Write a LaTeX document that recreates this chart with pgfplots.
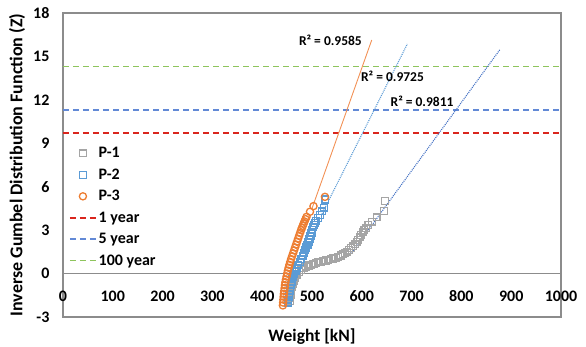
\documentclass[border=0pt]{standalone}
\usepackage{pgfplots}
\pgfplotsset{compat=1.18}
\usepackage{fontspec}
\setmainfont{Carlito}

\definecolor{pone}{RGB}{165,165,165}
\definecolor{ptwo}{RGB}{91,155,213}
\definecolor{pthree}{RGB}{237,125,49}
\definecolor{yrone}{RGB}{218,37,29}
\definecolor{yrfive}{RGB}{98,137,214}
\definecolor{yrhund}{RGB}{142,196,92}
\definecolor{trendone}{RGB}{68,114,196}
\definecolor{trendtwo}{RGB}{91,155,213}
\definecolor{trendthree}{RGB}{242,145,85}
\definecolor{frame}{RGB}{140,140,140}

\begin{document}
\begin{tikzpicture}
\begin{axis}[
  scale only axis,
  width=498pt, height=304pt,
  xmin=0, xmax=1000, ymin=-3, ymax=18,
  xtick={0,100,...,1000}, ytick={-3,0,...,18},
  major tick length=0pt,
  axis line style={frame, line width=1.2pt},
  /pgf/number format/assume math mode=true,
  /pgf/number format/1000 sep={},
  xticklabel={\pgfmathprintnumber{\tick}},
  yticklabel={\pgfmathprintnumber{\tick}},
  tick label style={font=\fontsize{16}{16}\selectfont\bfseries},
  xticklabel style={anchor=center, yshift=21pt},
  yticklabel style={xshift=-10pt},
  xlabel={Weight [kN]},
  ylabel={Inverse Gumbel Distribution Function (Z)},
  every axis x label/.style={at={(rel axis cs:0.5,0)}, anchor=center, yshift=-20pt,
    font=\fontsize{17.5}{17.5}\selectfont\bfseries},
  every axis y label/.style={at={(rel axis cs:0,0.5)}, rotate=90, anchor=center, yshift=46pt,
    font=\fontsize{18}{18}\selectfont\bfseries},
  legend style={draw=none, fill=none, at={(rel axis cs:0.012,0.565)}, anchor=north west,
    font=\fontsize{16}{16}\selectfont\bfseries, row sep=5.5pt, inner sep=0pt,
    cells={anchor=west}},
  legend image code/.code={\draw[mark repeat=2, mark phase=2, #1]
    plot coordinates {(0pt,0pt) (13pt,0pt) (26pt,0pt)};},
]
\coordinate (sw) at (rel axis cs:0,0);
\coordinate (ne) at (rel axis cs:1,1);

% axis line at Z = 0
\draw[frame, line width=1.2pt] (axis cs:0,0) -- (axis cs:1000,0);

% P-1
\addplot[only marks, mark=square, mark size=3.4pt, color=pone, line width=1.3pt] coordinates {
(455.5,-1.9) (456.2,-1.7) (457,-1.5) (457.8,-1.3) (458.6,-1.1) (459.6,-0.9)
(461,-0.7) (462.8,-0.5) (465.5,-0.3) (469,-0.1) (473.5,0.1) (478,0.25)
(483,0.38) (488,0.48) (493,0.56) (498,0.62) (503,0.68) (508,0.73)
(513,0.78) (518,0.82) (523,0.86) (528,0.9) (533,0.94) (538,0.99)
(543,1.04) (548,1.1) (553,1.17) (558,1.25) (562,1.33) (566,1.42)
(570,1.52) (574,1.63) (578,1.75) (582,1.88) (586,2.02) (589.5,2.17)
(592.5,2.33) (595.5,2.5) (598.5,2.68) (601.5,2.85) (605,3.0) (608.4,3.12)
(613,3.35) (620,3.58) (630,3.88) (644.6,4.31) (646.6,5.0)
};
\addlegendentry{P-1}

% P-2
\addplot[only marks, mark=square, mark size=3.4pt, color=ptwo, line width=1.3pt] coordinates {
(452,-2.0) (452.7,-1.8) (453.5,-1.6) (454.5,-1.4) (455.5,-1.2) (456.7,-1.0)
(458,-0.8) (459.2,-0.6) (460.5,-0.4) (462,-0.2) (464.5,0.0) (467,0.2)
(469.6,0.4) (472.5,0.6) (475.5,0.8) (478.5,1.0) (481.3,1.2) (484,1.4)
(486.3,1.6) (488.6,1.8) (491,2.0) (493,2.2) (495,2.4) (497,2.6)
(499,2.8) (500.8,3.0) (502.5,3.2) (504,3.35) (505.5,3.5) (508,3.65)
(512,3.85) (516,4.05) (520,4.3) (524,4.55) (527,5.12)
};
\addlegendentry{P-2}

% P-3
\addplot[only marks, mark=o, mark size=3.6pt, color=pthree, line width=1.3pt] coordinates {
(441.5,-2.2) (442,-2.0) (442.5,-1.8) (443,-1.6) (443.5,-1.4) (444.2,-1.2)
(445,-1.0) (445.7,-0.8) (446.5,-0.6) (447.7,-0.4) (449,-0.2) (450.2,0.0)
(451.5,0.2) (453,0.4) (454.5,0.6) (456.2,0.8) (458,1.0) (460,1.2)
(462,1.4) (464,1.6) (466,1.8) (468,2.0) (470,2.2) (472,2.4)
(474,2.6) (476,2.8) (478,3.0) (479.8,3.15) (481.5,3.3) (483.2,3.45)
(485,3.6) (487,3.76) (489,3.92) (496,4.27) (503,4.66) (526,5.3)
};
\addlegendentry{P-3}

% return-period levels
\addplot[yrone, line width=1.5pt, dash pattern=on 6pt off 4pt] coordinates {(0,9.70) (1000,9.70)};
\addlegendentry{1 year}
\addplot[yrfive, line width=1.5pt, dash pattern=on 6pt off 4pt] coordinates {(0,11.31) (1000,11.31)};
\addlegendentry{5 year}
\addplot[yrhund, line width=1.5pt, dash pattern=on 6pt off 4pt] coordinates {(0,14.31) (1000,14.31)};
\addlegendentry{100 year}

% linear trend lines
\addplot[forget plot, trendone, line width=1.1pt, dash pattern=on 1pt off 1pt] coordinates {(580,1.44) (877.5,15.48)};
\addplot[forget plot, trendtwo, line width=1.1pt, dash pattern=on 1pt off 1pt] coordinates {(520,4.12) (691.4,15.86)};
\addplot[forget plot, trendthree, line width=0.9pt] coordinates {(500,4.5) (620,16.14)};

\node[font=\fontsize{13.5}{13.5}\selectfont\bfseries] at (axis cs:537,16.13) {R² = 0.9585};
\node[font=\fontsize{13.5}{13.5}\selectfont\bfseries] at (axis cs:661.6,13.64) {R² = 0.9725};
\node[font=\fontsize{13.5}{13.5}\selectfont\bfseries] at (axis cs:721,11.93) {R² = 0.9811};
\end{axis}
\pgfresetboundingbox
\path ([shift={(-63pt,-29pt)}]sw) rectangle ([shift={(25pt,13pt)}]ne);
\end{tikzpicture}
\end{document}
